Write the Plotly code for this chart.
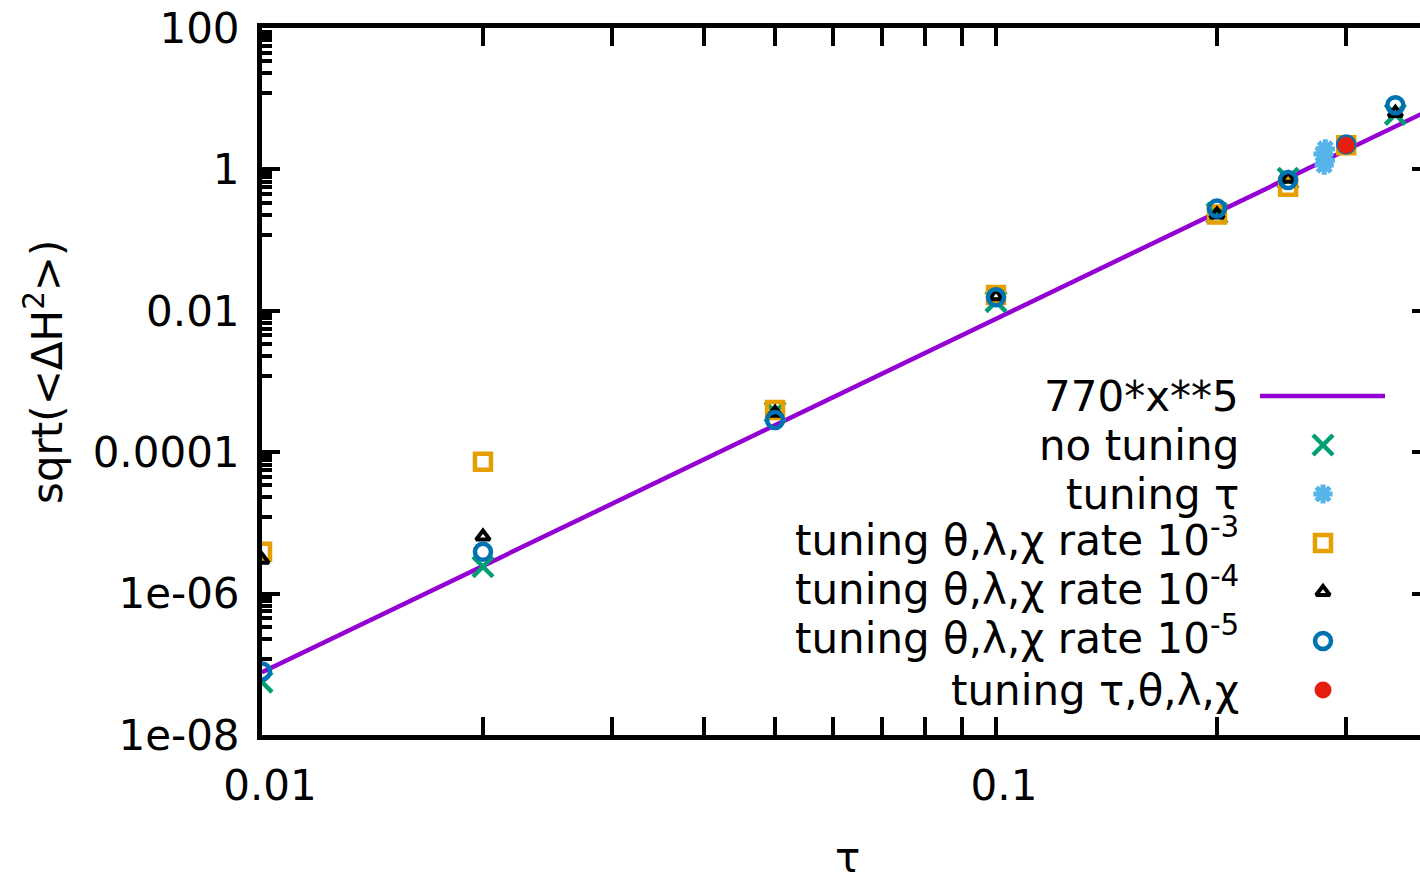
import math
import plotly.graph_objects as go

# ---------------- data ----------------
no_tuning_x = [0.01, 0.02, 0.05, 0.1, 0.2, 0.25, 0.35]
no_tuning_y = [5.6e-8, 2.4e-6, 3.7e-4, 0.0135, 0.24, 0.75, 6.0]

tuning_tau_x = [0.280, 0.281, 0.279, 0.281]
tuning_tau_y = [1.15, 1.35, 1.65, 1.95]

rate3_x = [0.01, 0.02, 0.05, 0.1, 0.2, 0.25, 0.3]
rate3_y = [3.9e-6, 7.3e-5, 3.95e-4, 0.0167, 0.23, 0.57, 2.2]

rate4_x = [0.01, 0.02, 0.05, 0.1, 0.2, 0.25, 0.3, 0.35]
rate4_y = [3.0e-6, 6.4e-6, 3.6e-4, 0.016, 0.23, 0.74, 2.25, 6.3]

rate5_x = [0.01, 0.02, 0.05, 0.1, 0.2, 0.25, 0.3, 0.35]
rate5_y = [7.9e-8, 3.9e-6, 2.85e-4, 0.0155, 0.28, 0.71, 2.25, 8.1]

all_x = [0.3]
all_y = [2.2]

fit_coef = 770
fit_power = 5
fit_x = [0.01, 0.4]

x_tickvals = [0.01, 0.1]
x_ticktext = ["0.01", "0.1"]
y_tickvals = [1e-8, 1e-6, 1e-4, 1e-2, 1, 100]
y_ticktext = ["1e-08", "1e-06", "0.0001", "0.01", "1", "100"]

legend_labels = [
    "770*x**5",
    "no tuning",
    "tuning τ",
    "tuning θ,λ,χ rate 10<sup>-3</sup>",
    "tuning θ,λ,χ rate 10<sup>-4</sup>",
    "tuning θ,λ,χ rate 10<sup>-5</sup>",
    "tuning τ,θ,λ,χ",
]

# ---------------- styles ----------------
FONT = "DejaVu Sans"
FS = 42
W, H = 1420, 872
L, R, T, B = 262, 0, 28, 137
PURPLE = "#9400d3"

styles = [
    dict(color="#009e73", symbol="x-thin-open", size=20, lw=4.5),
    dict(color="#56b4e9", symbol="asterisk-open", size=16, lw=5),
    dict(color="#e69f00", symbol="square-open", size=16, lw=4.5),
    dict(color="#000000", symbol="triangle-up-open", size=12, lw=4),
    dict(color="#0072b2", symbol="circle-open", size=16, lw=4.5),
    dict(color="#e51e10", symbol="circle", size=17, lw=0),
]
series = [
    (no_tuning_x, no_tuning_y),
    (tuning_tau_x, tuning_tau_y),
    (rate3_x, rate3_y),
    (rate4_x, rate4_y),
    (rate5_x, rate5_y),
    (all_x, all_y),
]


def minor_log_vals(lo_exp, hi_exp, step):
    vals = []
    for e in range(lo_exp, hi_exp, step):
        base = 10.0 ** e
        if step == 1:
            vals += [base * m for m in range(2, 10)]
        else:
            vals += [base * (1 + 11 * k) for k in range(1, 9)]
    return vals


fig = go.Figure()

# fitted power law
fig.add_trace(go.Scatter(
    x=fit_x, y=[fit_coef * v ** fit_power for v in fit_x],
    mode="lines", line=dict(color=PURPLE, width=4.5),
    showlegend=False, hoverinfo="skip"))

for (xs, ys), st in zip(series, styles):
    fig.add_trace(go.Scatter(
        x=xs, y=ys, mode="markers", showlegend=False,
        marker=dict(symbol=st["symbol"], size=st["size"], color=st["color"],
                    line=dict(color=st["color"], width=st["lw"]))))

# anchor trace for right-hand mirror ticks
fig.add_trace(go.Scatter(x=[0.1], y=[1], yaxis="y2", mode="markers",
                         marker=dict(opacity=0), showlegend=False, hoverinfo="skip"))

# ---------------- custom legend (gnuplot style: text right, sample left) ----------------
LEG_TEXT_X = 1241
LEG_SYM_X = 1323
LEG_LINE_X = [1260, 1385]
LEG_Y0 = 396
LEG_DY = 49
SUP_SHIFT = -6

fig.add_trace(go.Scatter(x=LEG_LINE_X, y=[LEG_Y0, LEG_Y0], xaxis="x2", yaxis="y3",
                         mode="lines", line=dict(color=PURPLE, width=4.5),
                         showlegend=False, hoverinfo="skip"))
for i, st in enumerate(styles):
    fig.add_trace(go.Scatter(
        x=[LEG_SYM_X], y=[LEG_Y0 + LEG_DY * (i + 1)], xaxis="x2", yaxis="y3",
        mode="markers", showlegend=False, hoverinfo="skip",
        marker=dict(symbol=st["symbol"], size=st["size"], color=st["color"],
                    line=dict(color=st["color"], width=st["lw"]))))

annotations = []
for i, lab in enumerate(legend_labels):
    yy = LEG_Y0 + LEG_DY * i + (SUP_SHIFT if "<sup>" in lab else 0)
    annotations.append(dict(
        x=LEG_TEXT_X, y=yy, xref="x2", yref="y3",
        text=lab, showarrow=False, xanchor="right", yanchor="middle",
        font=dict(family=FONT, size=FS, color="black")))

pw = W - L - R
ph = H - T - B
# axis titles
annotations.append(dict(x=(848 - L) / pw, y=(H - B - 857) / ph, xref="paper", yref="paper",
                        text="τ", showarrow=False, xanchor="center", yanchor="middle",
                        font=dict(family=FONT, size=FS, color="black")))
annotations.append(dict(x=(44 - L) / pw, y=(H - B - 372) / ph, xref="paper", yref="paper",
                        text="sqrt(&lt;ΔH<sup>2</sup>&gt;)", textangle=-90, showarrow=False,
                        xanchor="center", yanchor="middle",
                        font=dict(family=FONT, size=FS, color="black")))

x_max = 10 ** (-2 + (W - L - R) / 734.0)

fig.update_layout(
    width=W, height=H,
    margin=dict(l=L, r=R, t=T, b=B, pad=0),
    plot_bgcolor="white", paper_bgcolor="white",
    font=dict(family=FONT, size=FS, color="black"),
    showlegend=False,
    annotations=annotations,
    xaxis=dict(
        type="log", range=[-2, math.log10(x_max)],
        showgrid=False, zeroline=False,
        showline=True, linecolor="black", linewidth=5, mirror="allticks",
        ticks="inside", ticklen=18, tickwidth=4, tickcolor="black",
        tickmode="array", tickvals=x_tickvals, ticktext=x_ticktext,
        tickfont=dict(family=FONT, size=FS, color="black"),
        ticklabelstandoff=10, ticklabelshift=8,
        minor=dict(ticks="inside", ticklen=10, tickwidth=4, tickcolor="black",
                   tickmode="array", tickvals=minor_log_vals(-2, 0, 1), showgrid=False),
    ),
    yaxis=dict(
        type="log", range=[-8, 2],
        showgrid=False, zeroline=False,
        showline=True, linecolor="black", linewidth=5, mirror=False,
        ticks="inside", ticklen=18, tickwidth=4, tickcolor="black",
        tickmode="array", tickvals=y_tickvals, ticktext=y_ticktext,
        tickfont=dict(family=FONT, size=FS, color="black"),
        ticklabelstandoff=9,
        minor=dict(ticks="inside", ticklen=10, tickwidth=4, tickcolor="black",
                   tickmode="array", tickvals=minor_log_vals(-8, 2, 2), showgrid=False),
    ),
    yaxis2=dict(
        type="log", range=[-8, 2], overlaying="y", side="right", anchor="x",
        showgrid=False, zeroline=False, showline=False,
        ticks="inside", ticklen=8, tickwidth=4, tickcolor="black",
        tickmode="array", tickvals=y_tickvals, showticklabels=False,
    ),
    xaxis2=dict(range=[L, W - R], overlaying="x", anchor="y3", visible=False),
    yaxis3=dict(range=[H - B, T], overlaying="y", anchor="x2", visible=False),
)

fig.write_html("out.html")
